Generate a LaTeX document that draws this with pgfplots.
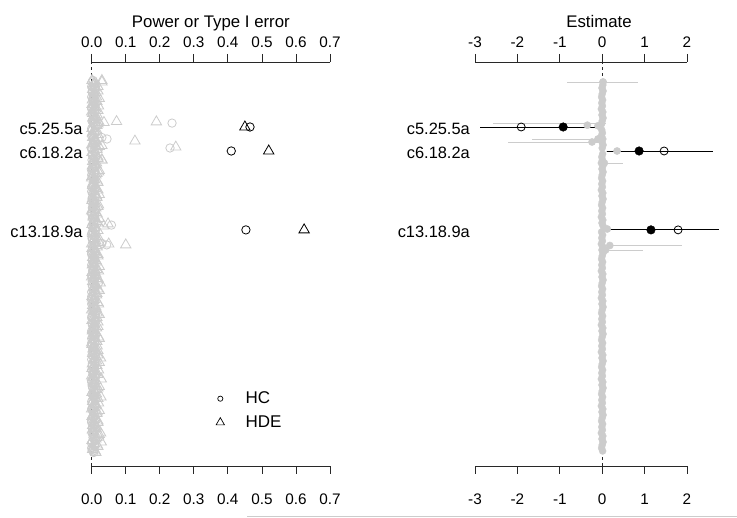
\documentclass[border=0pt]{standalone}
\usepackage{fontspec}
\setmainfont{Liberation Sans}
\usepackage{pgfplots}
\usepackage{pgfplotstable}
\pgfplotsset{compat=1.18}
\definecolor{lg}{RGB}{204,204,204}
\definecolor{ax}{RGB}{40,40,40}
\newcommand\tickfont{\fontsize{15.3}{18}\selectfont}
\newcommand\labfont{\fontsize{16.4}{19}\selectfont}
\newcommand\titfont{\fontsize{16.8}{20}\selectfont}
\newcommand\legfont{\fontsize{17}{20}\selectfont}

% row b (counted from the bottom), HC power, HDE power, estimate
\pgfplotstableread{
b hc hde est
1 0.004 0.010 0.010
2 0.000 0.004 -0.015
3 0.008 0.016 0.000
4 0.002 0.028 0.020
5 0.010 0.012 -0.005
6 0.006 0.020 0.015
7 0.001 0.026 -0.020
8 0.012 0.002 0.005
9 0.003 0.014 -0.010
10 0.007 0.008 0.010
11 0.000 0.018 -0.015
12 0.005 0.010 0.000
13 0.009 0.004 0.020
14 0.004 0.016 -0.005
15 0.000 0.000 0.015
16 0.008 0.012 -0.020
17 0.002 0.020 0.005
18 0.010 0.006 -0.010
19 0.006 0.027 0.010
20 0.001 0.014 -0.015
21 0.012 0.008 0.000
22 0.003 0.018 0.020
23 0.007 0.010 -0.005
24 0.000 0.004 0.015
25 0.005 0.028 -0.020
26 0.009 0.000 0.005
27 0.004 0.012 -0.010
28 0.000 0.020 0.010
29 0.008 0.006 -0.015
30 0.002 0.002 0.000
31 0.010 0.014 0.020
32 0.006 0.026 -0.005
33 0.001 0.018 0.015
34 0.012 0.010 -0.020
35 0.003 0.004 0.005
36 0.007 0.016 -0.010
37 0.000 0.000 0.010
38 0.005 0.012 -0.015
39 0.009 0.020 0.000
40 0.004 0.006 0.020
41 0.000 0.002 -0.005
42 0.008 0.014 0.015
43 0.002 0.008 -0.020
44 0.010 0.018 0.005
45 0.006 0.010 -0.010
46 0.001 0.004 0.010
47 0.012 0.016 -0.015
48 0.003 0.000 0.000
49 0.007 0.012 0.020
50 0.000 0.020 -0.005
51 0.005 0.006 0.015
52 0.009 0.002 -0.020
53 0.004 0.014 0.005
54 0.000 0.008 -0.010
55 0.008 0.018 0.010
56 0.002 0.010 -0.015
57 0.020 0.025 0.000
58 0.006 0.016 0.020
59 0.001 0.000 -0.005
60 0.012 0.012 0.015
61 0.003 0.020 -0.020
62 0.007 0.006 0.005
63 0.000 0.002 -0.010
64 0.005 0.014 0.010
65 0.009 0.008 -0.015
66 0.004 0.018 0.000
67 0.000 0.010 0.020
68 0.008 0.004 -0.005
69 0.002 0.016 0.015
70 0.010 0.000 -0.020
71 0.006 0.012 0.005
72 0.001 0.020 -0.010
73 0.012 0.006 0.010
74 0.003 0.002 -0.015
76 0.000 0.008 0.020
77 0.005 0.018 -0.005
78 0.009 0.010 0.015
79 0.004 0.004 -0.020
80 0.000 0.016 0.005
81 0.008 0.000 -0.010
82 0.002 0.012 0.010
83 0.010 0.020 -0.015
84 0.006 0.006 0.000
85 0.001 0.002 0.020
86 0.012 0.014 -0.005
87 0.003 0.008 0.015
88 0.007 0.018 -0.020
89 0.000 0.010 0.005
90 0.005 0.004 -0.010
91 0.009 0.016 0.010
92 0.004 0.000 -0.015
93 0.000 0.012 0.000
94 0.008 0.020 0.020
95 0.002 0.006 -0.005
96 0.010 0.002 0.015
97 0.006 0.014 -0.020
98 0.001 0.030 0.005
99 0.012 0.018 -0.010
100 0.003 0.010 0.010
102 0.000 0.016 0.000
103 0.005 0.000 0.020
104 0.009 0.012 -0.005
105 0.004 0.020 0.015
106 0.000 0.006 -0.020
107 0.008 0.002 0.005
108 0.002 0.014 -0.010
110 0.006 0.018 -0.015
111 0.001 0.010 0.000
112 0.012 0.004 0.020
113 0.003 0.016 -0.005
114 0.007 0.000 0.015
115 0.000 0.012 -0.020
116 0.005 0.020 0.005
117 0.009 0.006 -0.010
118 0.004 0.002 0.010
119 0.000 0.014 -0.015
120 0.008 0.008 0.000
121 0.002 0.018 0.020
122 0.010 0.010 -0.005
123 0.006 0.004 0.015
124 0.001 0.030 0.020
}\band

% further tests between the rows above (left panel only)
\pgfplotstableread{
b hc hde
0.5 0.006 0.012
1.5 0.002 0.003
2.5 0.009 0.018
3.5 0.000 0.008
4.5 0.011 0.001
5.5 0.004 0.015
6.5 0.007 0.022
7.5 0.006 0.006
8.5 0.002 0.012
9.5 0.009 0.003
10.5 0.000 0.018
11.5 0.011 0.008
12.5 0.004 0.001
13.5 0.007 0.015
14.5 0.006 0.022
15.5 0.002 0.006
16.5 0.009 0.012
17.5 0.000 0.003
18.5 0.011 0.018
19.5 0.004 0.008
20.5 0.007 0.001
21.5 0.006 0.015
22.5 0.002 0.022
23.5 0.009 0.006
24.5 0.000 0.012
25.5 0.011 0.003
26.5 0.004 0.018
27.5 0.007 0.008
28.5 0.006 0.001
29.5 0.002 0.015
30.5 0.009 0.022
31.5 0.000 0.006
32.5 0.011 0.012
33.5 0.004 0.003
34.5 0.007 0.018
35.5 0.006 0.008
36.5 0.002 0.001
37.5 0.009 0.015
38.5 0.000 0.022
39.5 0.011 0.006
40.5 0.004 0.012
41.5 0.007 0.003
42.5 0.006 0.018
43.5 0.002 0.008
44.5 0.009 0.001
45.5 0.000 0.015
46.5 0.011 0.022
47.5 0.004 0.006
48.5 0.007 0.012
49.5 0.006 0.003
50.5 0.002 0.018
51.5 0.009 0.008
52.5 0.000 0.001
53.5 0.011 0.015
54.5 0.004 0.022
55.5 0.007 0.006
56.5 0.006 0.012
57.5 0.002 0.003
58.5 0.009 0.018
59.5 0.000 0.008
60.5 0.011 0.001
61.5 0.004 0.015
62.5 0.007 0.022
63.5 0.006 0.006
64.5 0.002 0.012
65.5 0.009 0.003
66.5 0.000 0.018
67.5 0.011 0.008
68.5 0.004 0.001
69.5 0.007 0.015
70.5 0.006 0.022
71.5 0.002 0.006
72.5 0.009 0.012
73.5 0.000 0.003
74.5 0.011 0.018
75.5 0.004 0.008
76.5 0.007 0.001
77.5 0.006 0.015
78.5 0.002 0.022
79.5 0.009 0.006
80.5 0.000 0.012
81.5 0.011 0.003
82.5 0.004 0.018
83.5 0.007 0.008
84.5 0.006 0.001
85.5 0.002 0.015
86.5 0.009 0.022
87.5 0.000 0.006
88.5 0.011 0.012
89.5 0.004 0.003
90.5 0.007 0.018
91.5 0.006 0.008
92.5 0.002 0.001
93.5 0.009 0.015
94.5 0.000 0.022
95.5 0.011 0.006
96.5 0.004 0.012
97.5 0.007 0.003
98.5 0.006 0.018
99.5 0.002 0.008
100.5 0.009 0.001
101.5 0.000 0.015
102.5 0.011 0.022
103.5 0.004 0.006
104.5 0.007 0.012
105.5 0.006 0.003
106.5 0.002 0.018
107.5 0.009 0.008
108.5 0.000 0.001
109.5 0.011 0.015
110.5 0.004 0.022
111.5 0.007 0.006
112.5 0.006 0.012
113.5 0.002 0.003
114.5 0.009 0.018
115.5 0.000 0.008
116.5 0.011 0.001
117.5 0.004 0.015
118.5 0.007 0.022
119.5 0.006 0.006
120.5 0.002 0.012
121.5 0.009 0.003
122.5 0.000 0.018
123.5 0.011 0.008
124.5 0.004 0.001
}\bandb

\pgfplotstableread{
b hc
110.3 0.236
102.0 0.230
105.0 0.045
105.5 0.030
110.0 0.020
76.3 0.058
69.7 0.044
70.2 0.030
}\grayhc

\pgfplotstableread{
b hde
124.5 0.030
110.5 0.036
110.8 0.073
110.7 0.190
104.3 0.127
102.3 0.247
102.8 0.030
98.0 0.030
76.7 0.048
76.0 0.035
69.7 0.100
70.0 0.050
}\grayhde

\pgfplotstableread{
b hc hde
109 0.465 0.450
101 0.410 0.520
74.7 0.453 0.624
}\blackleft

\pgfplotstableread{
b est
124 0.02
109.6 -0.35
109.4 -0.10
105 -0.10
104 -0.24
101 0.35
97 0.05
75 0.12
69.5 0.18
68 0.08
}\grayest

\pgfplotstableread{
b est open
109 -0.92 -1.91
101 0.87 1.46
74.7 1.15 1.79
}\blackright

\pgfplotsset{
  panel/.style={
    scale only axis, height=404pt, ymin=-4, ymax=130.6667, clip=false,
    separate axis lines,
    x axis line style={ax, line width=0.8pt},
    y axis line style={draw=none},
    tick align=outside, major tick length=8pt,
    xtick style={ax, line width=0.8pt},
    ytick style={draw=none},
    xticklabel style={font=\tickfont, inner sep=0pt, anchor=base, yshift=-30.9pt},
    yticklabel style={font=\labfont, inner sep=0pt, anchor=east, yshift=-1.5pt},
    ytick={109,101,74.7},
    yticklabels={c5.25.5a,c6.18.2a,c13.18.9a},
  },
  toppanel/.style={
    scale only axis, height=404pt, ymin=-4, ymax=130.6667, clip=false,
    axis line style={draw=none}, xtick style={draw=none}, ytick=\empty,
    tick align=outside, major tick length=8pt,
    xticklabel pos=right,
    xticklabel style={font=\tickfont, inner sep=0pt, anchor=base, yshift=6.9pt},
  },
}

\begin{document}
\begin{tikzpicture}
\path[use as bounding box] (0pt,0pt) rectangle (737pt,518pt);

% ---------- left panel ----------
\begin{axis}[panel, at={(91.7pt,52pt)}, anchor=south west, width=238.3pt,
  xmin=0, xmax=0.7, xtick={0,0.1,0.2,0.3,0.4,0.5,0.6,0.7},
  xticklabels={0.0,0.1,0.2,0.3,0.4,0.5,0.6,0.7},
  yticklabel style={xshift=-1pt},
  legend image code/.code={\path (-3pt,0pt) (23pt,0pt); \draw[#1] plot coordinates {(0pt,0pt)};},
  legend style={draw=none, fill=none, at={(axis cs:0.365,21.4)}, anchor=north west,
    font=\legfont, row sep=6.5pt, inner sep=0pt},
  legend cell align=left]
\addplot[ax, dash pattern=on 3pt off 3pt, line width=0.6pt, forget plot] coordinates {(0,-4) (0,130.6667)};
\addplot[only marks, mark=o, mark size=4.2pt, lg, line width=0.9pt, forget plot] table[x=hc, y=b] {\band};
\addplot[only marks, mark=triangle, mark size=6pt, lg, line width=0.9pt, forget plot] table[x=hde, y=b] {\band};
\addplot[only marks, mark=o, mark size=4.2pt, lg, line width=0.9pt, forget plot] table[x=hc, y=b] {\bandb};
\addplot[only marks, mark=triangle, mark size=6pt, lg, line width=0.9pt, forget plot] table[x=hde, y=b] {\bandb};
\addplot[only marks, mark=o, mark size=4.2pt, lg, line width=0.8pt, forget plot] table[x=hc, y=b] {\grayhc};
\addplot[only marks, mark=triangle, mark size=6pt, lg, line width=0.8pt, forget plot] table[x=hde, y=b] {\grayhde};
\addplot[only marks, mark=o, mark size=4.2pt, black, line width=0.8pt, forget plot] table[x=hc, y=b] {\blackleft};
\addplot[only marks, mark=triangle, mark size=6pt, black, line width=0.8pt, forget plot] table[x=hde, y=b] {\blackleft};
\addlegendimage{only marks, mark=o, mark size=2.6pt, black, line width=0.7pt}
\addlegendentry{HC}
\addlegendimage{only marks, mark=triangle, mark size=4.8pt, black, line width=0.7pt}
\addlegendentry{HDE}
\end{axis}
\begin{axis}[toppanel, at={(91.7pt,52pt)}, anchor=south west, width=238.3pt,
  xmin=0, xmax=0.7, xtick={0,0.1,0.2,0.3,0.4,0.5,0.6,0.7},
  xticklabels={0.0,0.1,0.2,0.3,0.4,0.5,0.6,0.7}]
\node[font=\titfont, anchor=base, yshift=34.6pt] at (axis description cs:0.5,1) {Power or Type I error};
\end{axis}

% ---------- right panel ----------
\begin{axis}[panel, at={(475pt,52pt)}, anchor=south west, width=212pt,
  xmin=-3, xmax=2, xtick={-3,-2,-1,0,1,2}, xticklabels={-3,-2,-1,0,1,2},
  yticklabel style={xshift=3pt}]
\addplot[ax, dash pattern=on 3pt off 3pt, line width=0.6pt] coordinates {(0,-4) (0,130.6667)};
\addplot[lg, line width=0.9pt, unbounded coords=jump] coordinates {
 (-0.83,124) (0.85,124) (nan,nan)
 (-2.58,110.3) (0.10,110.3) (nan,nan)
 (-1.65,105) (0.05,105) (nan,nan)
 (-2.21,104) (0.00,104) (nan,nan)
 (0.10,101) (0.60,101) (nan,nan)
 (-0.02,97) (0.50,97) (nan,nan)
 (0.00,75) (1.67,75) (nan,nan)
 (0.00,69.5) (1.88,69.5) (nan,nan)
 (0.00,68) (0.97,68)};
\addplot[only marks, mark=*, mark size=3.5pt, lg, mark options={draw=lg, fill=lg}] table[x=est, y=b] {\band};
\addplot[black, line width=0.8pt, unbounded coords=jump] coordinates {
 (-2.88,109) (0.00,109) (nan,nan)
 (0.12,101) (2.62,101) (nan,nan)
 (0.15,74.7) (2.76,74.7)};
\addplot[only marks, mark=*, mark size=3.6pt, lg, mark options={draw=lg, fill=lg}] table[x=est, y=b] {\grayest};
\addplot[only marks, mark=*, mark size=4.3pt, black] table[x=est, y=b] {\blackright};
\addplot[only marks, mark=o, mark size=4pt, black, line width=0.8pt] table[x=open, y=b] {\blackright};
\end{axis}
\begin{axis}[toppanel, at={(475pt,52pt)}, anchor=south west, width=212pt,
  xmin=-3, xmax=2, xtick={-3,-2,-1,0,1,2}, xticklabels={-3,-2,-1,0,1,2}]
\node[font=\titfont, anchor=base, yshift=34.6pt] at (axis description cs:0.585,1) {Estimate};
\end{axis}

\draw[lg, line width=1pt] (247pt,1.5pt) -- (737pt,1.5pt);
\end{tikzpicture}
\end{document}
